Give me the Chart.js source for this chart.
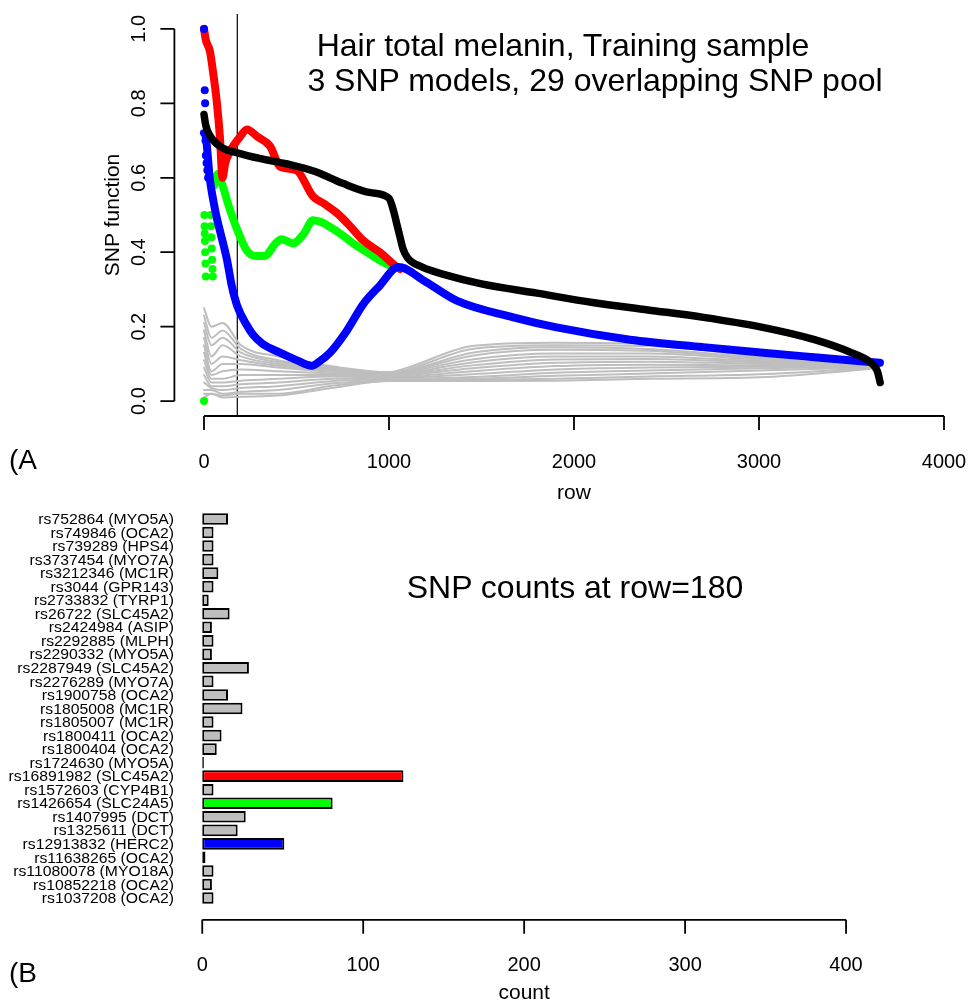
<!DOCTYPE html>
<html>
<head>
<meta charset="utf-8">
<script src="https://cdn.jsdelivr.net/npm/chart.js@4.4.1/dist/chart.umd.min.js"></script>
<style>
  html, body { margin: 0; padding: 0; background: #fff; }
  #page {
    position: relative;
    width: 970px;
    height: 1003px;
    overflow: hidden;
    font-family: "Liberation Sans", Arial, sans-serif;
    color: #000;
  }
  canvas { position: absolute; left: 0; display: block; }
  #snp-chart { top: 0; }
  #count-chart { top: 500px; }
  .note {
    position: absolute;
    white-space: nowrap;
    line-height: 1;
    font-size: 32px;
    transform: translate(-50%, -50%);
  }
  .panel {
    position: absolute;
    line-height: 1;
    font-size: 28px;
    transform: translateY(-50%);
  }
</style>
</head>
<body>
<div id="page">
  <canvas id="snp-chart" width="980" height="500"></canvas>
  <canvas id="count-chart" width="980" height="503"></canvas>
  <div class="note" style="left:563px;top:45px">Hair total melanin, Training sample</div>
  <div class="note" style="left:595px;top:80px">3 SNP models, 29 overlapping SNP pool</div>
  <div class="note" style="left:575px;top:587px">SNP counts at row=180</div>
  <div class="panel" style="left:9px;top:460px">(A</div>
  <div class="panel" style="left:9px;top:973px">(B</div>
</div>
<script>
(function () {
  const FONT = '"Liberation Sans", Arial, sans-serif';

  // ---- panel A: SNP function along the rows ----
  const CUT_ROW = 180;
  const ROW_TICKS = [0, 1000, 2000, 3000, 4000];
  const FUNCTION_TICKS = [0, 0.2, 0.4, 0.6, 0.8, 1];

  // black: best of the 3 SNP models
  const topRows = [0, 10, 30, 60, 100, 180, 300, 450, 600, 750, 900, 1000, 1025, 1045, 1060, 1075, 1100, 1180, 1300, 1500, 1800, 2100, 2400, 2700, 3000, 3300, 3500, 3600, 3640, 3655];
  const topValues = [0.77, 0.74, 0.715, 0.695, 0.68, 0.667, 0.652, 0.637, 0.617, 0.585, 0.56, 0.545, 0.51, 0.47, 0.44, 0.41, 0.385, 0.36, 0.34, 0.315, 0.29, 0.265, 0.245, 0.225, 0.2, 0.165, 0.13, 0.105, 0.08, 0.05];

  // blue: rs12913832 (HERC2)
  const herc2Rows = [0, 10, 32, 50, 70, 90, 124, 150, 180, 230, 265, 314, 411, 500, 584, 620, 681, 773, 860, 950, 1050, 1200, 1366, 1672, 1906, 2303, 2700, 3023, 3300, 3654];
  const herc2Values = [0.72, 0.71, 0.595, 0.54, 0.49, 0.45, 0.38, 0.31, 0.255, 0.205, 0.178, 0.155, 0.13, 0.11, 0.095, 0.105, 0.13, 0.19, 0.26, 0.31, 0.36, 0.32, 0.27, 0.225, 0.198, 0.165, 0.145, 0.13, 0.118, 0.103];
  const herc2DotRows = [0, 4, 6, 8, 10, 14, 18, 22];
  const herc2DotValues = [1.0, 0.835, 0.8, 0.7, 0.66, 0.64, 0.62, 0.6];

  // red: rs16891982 (SLC45A2)
  const slc45a2Rows = [0, 10, 32, 50, 70, 86, 100, 115, 140, 195, 232, 290, 357, 411, 500, 589, 650, 719, 790, 860, 950, 1043, 1060];
  const slc45a2Values = [1.0, 0.97, 0.94, 0.88, 0.8, 0.71, 0.6, 0.64, 0.67, 0.71, 0.73, 0.71, 0.685, 0.63, 0.62, 0.55, 0.53, 0.505, 0.47, 0.432, 0.4, 0.36, 0.355];

  // green: rs1426654 (SLC24A5)
  const slc24a5Rows = [55, 75, 103, 130, 157, 180, 231, 280, 330, 380, 420, 481, 540, 589, 640, 681, 750, 805, 880, 951, 1022];
  const slc24a5Values = [0.58, 0.61, 0.575, 0.53, 0.49, 0.46, 0.405, 0.39, 0.39, 0.42, 0.435, 0.424, 0.45, 0.486, 0.48, 0.468, 0.445, 0.424, 0.4, 0.378, 0.36];
  const slc24a5DotRows = [0, 2, 3, 4, 5, 6, 8, 10, 36, 38, 40, 42, 44, 46, 48];
  const slc24a5DotValues = [0.0, 0.5, 0.47, 0.45, 0.43, 0.4, 0.37, 0.335, 0.5, 0.47, 0.44, 0.41, 0.38, 0.355, 0.335];

  // grey: the other SNPs of the pool
  const GRAY_ROWS = [0, 40, 100, 200, 400, 700, 1000, 1100, 1450, 1900, 2400, 3000, 3650];
  const GRAY_VALUES = [
    [0.25, 0.2, 0.21, 0.15, 0.12, 0.093, 0.078, 0.09, 0.148, 0.157, 0.154, 0.127, 0.106],
    [0.23, 0.17, 0.19, 0.14, 0.11, 0.09, 0.076, 0.085, 0.14, 0.15, 0.148, 0.122, 0.104],
    [0.21, 0.15, 0.17, 0.13, 0.105, 0.088, 0.075, 0.082, 0.13, 0.145, 0.14, 0.118, 0.103],
    [0.19, 0.12, 0.15, 0.12, 0.1, 0.085, 0.073, 0.08, 0.122, 0.138, 0.135, 0.115, 0.102],
    [0.17, 0.1, 0.12, 0.11, 0.095, 0.082, 0.071, 0.078, 0.112, 0.128, 0.128, 0.112, 0.101],
    [0.15, 0.08, 0.1, 0.1, 0.09, 0.078, 0.069, 0.075, 0.104, 0.12, 0.12, 0.108, 0.1],
    [0.13, 0.07, 0.08, 0.085, 0.08, 0.074, 0.067, 0.072, 0.096, 0.112, 0.113, 0.104, 0.099],
    [0.11, 0.06, 0.06, 0.07, 0.07, 0.07, 0.065, 0.069, 0.088, 0.103, 0.106, 0.1, 0.097],
    [0.09, 0.05, 0.05, 0.055, 0.06, 0.066, 0.063, 0.066, 0.08, 0.094, 0.098, 0.096, 0.096],
    [0.07, 0.04, 0.04, 0.045, 0.05, 0.06, 0.061, 0.063, 0.072, 0.085, 0.09, 0.092, 0.094],
    [0.05, 0.035, 0.03, 0.035, 0.04, 0.054, 0.059, 0.06, 0.065, 0.076, 0.082, 0.088, 0.093],
    [0.03, 0.03, 0.02, 0.025, 0.03, 0.048, 0.057, 0.058, 0.06, 0.068, 0.074, 0.082, 0.092],
    [0.02, 0.02, 0.015, 0.02, 0.02, 0.042, 0.055, 0.056, 0.057, 0.06, 0.066, 0.072, 0.09],
    [0.01, 0.02, 0.01, 0.012, 0.015, 0.036, 0.054, 0.054, 0.054, 0.055, 0.06, 0.064, 0.088],
  ];

  // ---- panel B: SNP counts at the cut row ----
  const SNP_LABELS = [
    "rs752864 (MYO5A)", "rs749846 (OCA2)", "rs739289 (HPS4)", "rs3737454 (MYO7A)",
    "rs3212346 (MC1R)", "rs3044 (GPR143)", "rs2733832 (TYRP1)", "rs26722 (SLC45A2)",
    "rs2424984 (ASIP)", "rs2292885 (MLPH)", "rs2290332 (MYO5A)", "rs2287949 (SLC45A2)",
    "rs2276289 (MYO7A)", "rs1900758 (OCA2)", "rs1805008 (MC1R)", "rs1805007 (MC1R)",
    "rs1800411 (OCA2)", "rs1800404 (OCA2)", "rs1724630 (MYO5A)", "rs16891982 (SLC45A2)",
    "rs1572603 (CYP4B1)", "rs1426654 (SLC24A5)", "rs1407995 (DCT)", "rs1325611 (DCT)",
    "rs12913832 (HERC2)", "rs11638265 (OCA2)", "rs11080078 (MYO18A)", "rs10852218 (OCA2)",
    "rs1037208 (OCA2)",
  ];
  const SNP_COUNTS = [16, 7, 7, 7, 10, 7, 4, 17, 6, 7, 6, 29, 7, 16, 25, 7, 12, 9, 1, 125, 7, 81, 27, 22, 51, 2, 7, 6, 7];
  const COUNT_TICKS = [0, 100, 200, 300, 400];

  const GREY = "#BEBEBE";
  const HIGHLIGHT = {
    "rs16891982 (SLC45A2)": "#FF0000",
    "rs1426654 (SLC24A5)": "#00FF00",
    "rs12913832 (HERC2)": "#0000FF",
  };

  function points(xs, ys) {
    return xs.map(function (x, i) { return { x: x, y: ys[i] }; });
  }

  function lineSet(xs, ys, color, width) {
    return {
      data: points(xs, ys),
      showLine: true,
      borderColor: color,
      backgroundColor: color,
      borderWidth: width,
      pointRadius: 0,
      cubicInterpolationMode: "monotone",
      borderCapStyle: "round",
      borderJoinStyle: "round",
    };
  }

  function dotSet(xs, ys, color) {
    return {
      data: points(xs, ys),
      showLine: false,
      backgroundColor: color,
      borderWidth: 0,
      pointRadius: 4,
    };
  }

  // R style axis: line only from first to last tick, ticks pointing out
  function drawBottomAxis(ctx, scale, y, ticks, fmt) {
    ctx.beginPath();
    ctx.moveTo(scale.getPixelForValue(ticks[0]), y);
    ctx.lineTo(scale.getPixelForValue(ticks[ticks.length - 1]), y);
    ticks.forEach(function (t) {
      const px = scale.getPixelForValue(t);
      ctx.moveTo(px, y);
      ctx.lineTo(px, y + 14);
    });
    ctx.stroke();
    ctx.font = "20px " + FONT;
    ctx.textAlign = "center";
    ctx.textBaseline = "middle";
    ticks.forEach(function (t) {
      ctx.fillText(fmt(t), scale.getPixelForValue(t), y + 46);
    });
  }

  const snpAxes = {
    id: "snpAxes",
    beforeDatasetsDraw: function (chart) {
      const ctx = chart.ctx;
      const area = chart.chartArea;
      const px = chart.scales.x.getPixelForValue(CUT_ROW);
      ctx.save();
      ctx.strokeStyle = "#000";
      ctx.lineWidth = 1.2;
      ctx.beginPath();
      ctx.moveTo(px, area.top);
      ctx.lineTo(px, area.bottom);
      ctx.stroke();
      ctx.restore();
    },
    afterDraw: function (chart) {
      const ctx = chart.ctx;
      const area = chart.chartArea;
      const x = chart.scales.x;
      const y = chart.scales.y;
      ctx.save();
      ctx.strokeStyle = "#000";
      ctx.fillStyle = "#000";
      ctx.lineWidth = 1.8;

      drawBottomAxis(ctx, x, area.bottom, ROW_TICKS, function (t) { return String(t); });

      ctx.beginPath();
      ctx.moveTo(area.left, y.getPixelForValue(FUNCTION_TICKS[0]));
      ctx.lineTo(area.left, y.getPixelForValue(FUNCTION_TICKS[FUNCTION_TICKS.length - 1]));
      FUNCTION_TICKS.forEach(function (t) {
        const py = y.getPixelForValue(t);
        ctx.moveTo(area.left, py);
        ctx.lineTo(area.left - 14, py);
      });
      ctx.stroke();
      FUNCTION_TICKS.forEach(function (t) {
        ctx.save();
        ctx.translate(area.left - 35, y.getPixelForValue(t));
        ctx.rotate(-Math.PI / 2);
        ctx.fillText(t.toFixed(1), 0, 0);
        ctx.restore();
      });

      ctx.font = "21px " + FONT;
      ctx.fillText("row", (area.left + area.right) / 2, area.bottom + 77);
      ctx.save();
      ctx.translate(area.left - 61, (area.top + area.bottom) / 2);
      ctx.rotate(-Math.PI / 2);
      ctx.fillText("SNP function", 0, 0);
      ctx.restore();
      ctx.restore();
    },
  };

  const datasets = [
    lineSet(topRows, topValues, "#000000", 7.5),
    lineSet(herc2Rows, herc2Values, "#0000FF", 8),
    dotSet(herc2DotRows, herc2DotValues, "#0000FF"),
    lineSet(slc45a2Rows, slc45a2Values, "#FF0000", 8),
    lineSet(slc24a5Rows, slc24a5Values, "#00FF00", 8),
    dotSet(slc24a5DotRows, slc24a5DotValues, "#00FF00"),
  ];
  GRAY_VALUES.forEach(function (vals) {
    datasets.push(lineSet(GRAY_ROWS, vals, GREY, 2));
  });

  new Chart(document.getElementById("snp-chart"), {
    type: "scatter",
    data: { datasets: datasets },
    options: {
      responsive: false,
      animation: false,
      events: [],
      layout: { padding: { left: 174.4, right: 6.4, top: 14, bottom: 84 } },
      plugins: { legend: { display: false }, tooltip: { enabled: false } },
      scales: {
        x: { type: "linear", min: -160, max: 4160, display: false },
        y: { type: "linear", min: -0.04, max: 1.04, display: false },
      },
    },
    plugins: [snpAxes],
  });

  const countAxes = {
    id: "countAxes",
    afterDraw: function (chart) {
      const ctx = chart.ctx;
      const area = chart.chartArea;
      const x = chart.scales.x;
      const y = chart.scales.y;
      const axisY = area.bottom + 15;
      ctx.save();
      ctx.strokeStyle = "#000";
      ctx.fillStyle = "#000";
      ctx.lineWidth = 1.8;
      drawBottomAxis(ctx, x, axisY, COUNT_TICKS, function (t) { return String(t); });
      ctx.font = "21px " + FONT;
      ctx.fillText("count", (area.left + area.right) / 2, axisY + 73);

      ctx.font = "15px " + FONT;
      ctx.textAlign = "right";
      SNP_LABELS.forEach(function (label, i) {
        ctx.save();
        ctx.translate(area.left - 2.5, y.getPixelForValue(i) + 1);
        ctx.scale(1.05, 1);
        ctx.fillText(label, 0, 0);
        ctx.restore();
      });
      ctx.restore();
    },
  };

  new Chart(document.getElementById("count-chart"), {
    type: "bar",
    data: {
      labels: SNP_LABELS,
      datasets: [
        {
          data: SNP_COUNTS,
          backgroundColor: SNP_LABELS.map(function (l) { return HIGHLIGHT[l] || GREY; }),
          borderColor: "#000",
          borderWidth: 2,
          borderSkipped: false,
          barPercentage: 0.86,
          categoryPercentage: 1,
        },
      ],
    },
    options: {
      indexAxis: "y",
      responsive: false,
      animation: false,
      events: [],
      layout: { padding: { left: 176.5, right: 108.2, top: 12.2, bottom: 98.2 } },
      plugins: { legend: { display: false }, tooltip: { enabled: false } },
      scales: {
        x: { type: "linear", min: -16, max: 416, display: false },
        y: { display: false },
      },
    },
    plugins: [countAxes],
  });
})();
</script>
</body>
</html>
